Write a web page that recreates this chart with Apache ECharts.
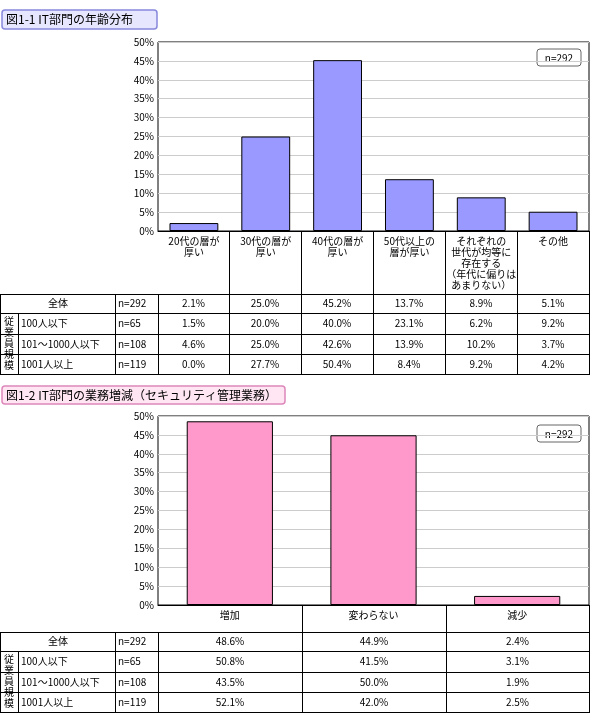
<!DOCTYPE html>
<html><head><meta charset="utf-8">
<script src="https://cdn.jsdelivr.net/npm/echarts@6/dist/echarts.min.js"></script>
<style>html,body{margin:0;padding:0;background:#fff}#c{width:590px;height:723px}</style>
</head><body><div id="c"></div>
<script>
const title1 = '図1-1 IT部門の年齢分布';
const title2 = '図1-2 IT部門の業務増減（セキュリティ管理業務）';
const cats1 = ['20代の層が\n厚い','30代の層が\n厚い','40代の層が\n厚い','50代以上の\n層が厚い','それぞれの\n世代が均等に\n存在する\n（年代に偏りは\nあまりない）','その他'];
const vals1 = [2.1,25.0,45.2,13.7,8.9,5.1];
const cats2 = ['増加','変わらない','減少'];
const vals2 = [48.6,44.9,2.4];
const yTicks = [0,5,10,15,20,25,30,35,40,45,50];
const rowLabels = ['全体','100人以下','101～1000人以下','1001人以上'];
const sideLabel = '従\n業\n員\n規\n模';
const nLabels = ['n=292','n=65','n=108','n=119'];
const table1 = [[2.1,25.0,45.2,13.7,8.9,5.1],[1.5,20.0,40.0,23.1,6.2,9.2],[4.6,25.0,42.6,13.9,10.2,3.7],[0.0,27.7,50.4,8.4,9.2,4.2]];
const table2 = [[48.6,44.9,2.4],[50.8,41.5,3.1],[43.5,50.0,1.9],[52.1,42.0,2.5]];
const nBadge = 'n=292';

const F = '"Noto Sans CJK JP", sans-serif';
const chart = echarts.init(document.getElementById('c'));
const G = [];
function line(x1,y1,x2,y2,c){G.push({type:'line',shape:{x1,y1,x2,y2},style:{stroke:c||'#000',lineWidth:1}});}
function txt(x,y,t,align){G.push({type:'text',x,y,style:{text:t,fill:'#000',font:'10px '+F,align:align||'center',verticalAlign:'middle',lineHeight:11}});}
function titleBox(x,y,w,h,t,fill,stroke){
  G.push({type:'rect',shape:{x,y,width:w,height:h,r:3},style:{fill,stroke,lineWidth:1.5}});
  G.push({type:'text',x:x+4,y:y+h/2,style:{text:t,fill:'#000',font:'12px '+F,verticalAlign:'middle'}});
}
function table(top,rowsY,colX,data,plotBottom){
  // vertical separators under plot
  colX.forEach((x,i)=>{ if(i>0) line(x+0.5,plotBottom,x+0.5,top); });
  rowsY.forEach(y=>line(0,y+0.5,colX[colX.length-1]+1,y+0.5));
  const b=rowsY[rowsY.length-1];
  line(0.5,top,0.5,b); line(18.5,rowsY[1],18.5,b); line(115.5,top,115.5,b);
  colX.forEach(x=>line(x+0.5,top,x+0.5,b));
  for(let r=0;r<4;r++){
    const cy=(rowsY[r]+rowsY[r+1])/2;
    if(r===0) txt(58,cy,rowLabels[0]); else txt(21,cy,rowLabels[r],'left');
    txt(118,cy,nLabels[r],'left');
    data[r].forEach((v,i)=>txt((colX[i]+colX[i+1])/2,cy,v.toFixed(1)+'%'));
  }
  txt(9,(rowsY[1]+b)/2,sideLabel);
}
function badge(x,y){
  G.push({type:'rect',shape:{x,y,width:44,height:17,r:3},style:{fill:'#fff',stroke:'#666',lineWidth:1}});
  G.push({type:'text',x:x+22,y:y+9,style:{text:nBadge,fill:'#000',font:'10px '+F,align:'center',verticalAlign:'middle'}});
}
titleBox(2,10,155,19,title1,'#e6e6ff','#8888dd');
titleBox(2,386,283,18,title2,'#ffe6f2','#dd88bb');
const c1=[158,229,301,373,445,517,589];
table(294,[294,313,334,354,374],c1,table1,231);
const c2=[158,302,446,589];
table(632,[632,651,672,692,712],c2,table2,605);
badge(537,49); badge(537,425);

function yAx(i){return {gridIndex:i,type:'value',min:0,max:50,interval:5,
  axisLabel:{formatter:'{value}%',color:'#000',fontSize:10,fontFamily:F,margin:4},
  axisLine:{show:false},axisTick:{show:false},splitLine:{lineStyle:{color:'#ccc'}}};}
function xAx(i,cats){return {gridIndex:i,type:'category',data:cats,
  axisLabel:{interval:0,color:'#000',fontSize:10,fontFamily:F,lineHeight:11,margin:5,verticalAlign:'top'},
  axisLine:{lineStyle:{color:'#000'}},axisTick:{show:false}};}
chart.setOption({
  animation:false,
  grid:[{left:158,top:42,width:431,height:189,show:true,borderColor:'#000',borderWidth:1},
        {left:158,top:416,width:431,height:189,show:true,borderColor:'#000',borderWidth:1}],
  xAxis:[xAx(0,cats1),xAx(1,cats2)],
  yAxis:[yAx(0),yAx(1)],
  series:[
    {type:'bar',xAxisIndex:0,yAxisIndex:0,data:vals1,barCategoryGap:'32%',itemStyle:{color:'#9999ff',borderColor:'#000',borderWidth:1}},
    {type:'bar',xAxisIndex:1,yAxisIndex:1,data:vals2,barCategoryGap:'40%',itemStyle:{color:'#ff99cc',borderColor:'#000',borderWidth:1}}
  ],
  graphic:G
});
</script></body></html>
